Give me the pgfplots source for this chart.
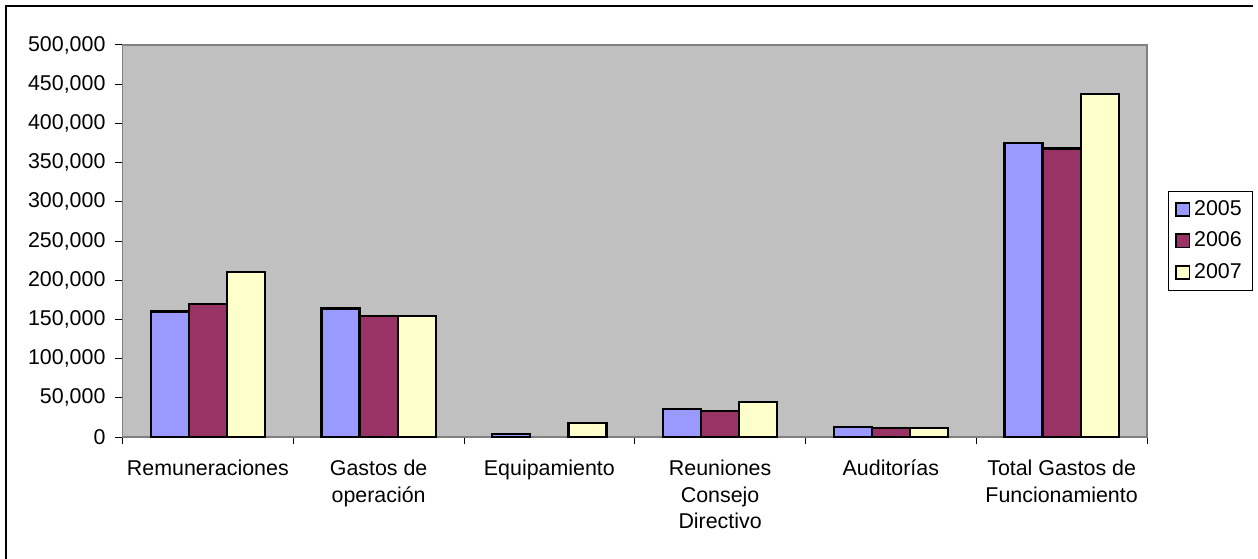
\documentclass[border=0pt]{standalone}
\usepackage{fontspec}
\setmainfont{Liberation Sans}
\usepackage{pgfplots}
\usepackage{pgfplotstable}
\pgfplotsset{compat=1.18}

\definecolor{c2005}{RGB}{153,153,255}
\definecolor{c2006}{RGB}{153,51,102}
\definecolor{c2007}{RGB}{255,255,204}
\definecolor{plotbg}{RGB}{192,192,192}
\definecolor{axgray}{RGB}{128,128,128}

% 0 Remuneraciones, 1 Gastos de operacion, 2 Equipamiento,
% 3 Reuniones Consejo Directivo, 4 Auditorias, 5 Total
\pgfplotstableread{
x y
0 160000
1 164000
2 4000
3 35500
4 13000
5 375000
}\tA
\pgfplotstableread{
x y
0 170000
1 154000
3 33500
4 11000
5 368000
}\tB
\pgfplotstableread{
x y
0 210000
1 154000
2 18000
3 45000
4 11000
5 438000
}\tC

\begin{document}
\begin{tikzpicture}
\useasboundingbox (0,0) rectangle (629pt,279pt);
% chart frame (right and bottom edges fall outside the picture)
\draw[black, line width=0.8pt] (3pt,-2pt) -- (3pt,276pt) -- (626.5pt,276pt);
\begin{axis}[
  at={(61.25pt,60.5pt)}, anchor=south west,
  scale only axis, width=512.25pt, height=196pt,
  axis background/.style={fill=plotbg},
  axis line style={axgray, line width=0.7pt},
  ybar=0pt, bar width=0.223,
  xmin=-0.5, xmax=5.5, ymin=0, ymax=500000,
  ytick distance=50000,
  scaled y ticks=false,
  xtick={-0.5,0.5,...,5.5}, xticklabels={},
  extra x ticks={0,1,2,3,4,5},
  extra x tick labels={Remuneraciones, {Gastos de\\operación}, Equipamiento,
    {Reuniones\\Consejo\\Directivo}, Auditorías, {Total Gastos de\\Funcionamiento}},
  extra x tick style={major tick length=0pt,
    tick label style={align=center, anchor=north, yshift=-8pt,
      font=\fontsize{10.7}{13.3}\selectfont}},
  tick align=outside, tick pos=left, major tick length=3.5pt,
  tick style={black, line width=0.5pt},
  yticklabel style={xshift=-1.5pt, /pgf/number format/.cd, fixed, 1000 sep={,},
    assume math mode=true},
  tick label style={font=\fontsize{10.7}{13}\selectfont},
  legend style={at={(1.0205,0.6276)}, anchor=north west, draw=black,
    fill=white, font=\fontsize{10.7}{13}\selectfont, row sep=2.8pt,
    inner xsep=3.5pt, inner ysep=2.5pt},
  legend cell align=left,
  legend image code/.code={\draw[#1, line width=0.8pt] (0pt,-3.3pt) rectangle (6.6pt,3.3pt);},
]
\addplot[fill=c2005, draw=black, line width=1.1pt] table[x=x,y=y] {\tA};
\addplot[fill=c2006, draw=black, line width=1.1pt] table[x=x,y=y] {\tB};
\addplot[fill=c2007, draw=black, line width=1.1pt] table[x=x,y=y] {\tC};
\legend{2005,2006,2007}
\end{axis}
\end{tikzpicture}
\end{document}
